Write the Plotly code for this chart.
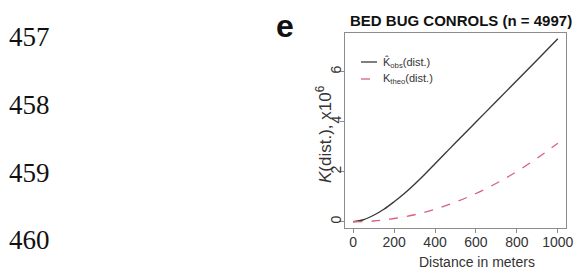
import plotly.graph_objects as go

# Data (K values in units of 10^6)
dist_obs = [0, 50, 100, 150, 200, 250, 300, 350, 400, 450, 500, 600, 700, 800, 900, 1000]
k_obs = [0, 0.08, 0.26, 0.5, 0.8, 1.13, 1.5, 1.9, 2.32, 2.74, 3.16, 3.99, 4.82, 5.65, 6.48, 7.32]
dist_theo = [0, 100, 200, 300, 400, 500, 600, 700, 800, 900, 1000]
k_theo = [0, 0.03, 0.13, 0.28, 0.5, 0.79, 1.13, 1.54, 2.01, 2.55, 3.14]

x_ticks = [0, 200, 400, 600, 800, 1000]
y_ticks = [0, 2, 4, 6]
line_numbers = ["457", "458", "459", "460"]

title_text = "BED BUG CONROLS (n = 4997)"
panel_label = "e"
y_title = "<i>K</i>(dist.), x10<sup>6</sup>"
x_title = "Distance in meters"
legend_labels = ["K\u0302<sub>obs</sub>(dist.)", "K<sub>theo</sub>(dist.)"]

obs_color = "#3a3a3a"
theo_color = "#d9607a"
frame_color = "#8c8c8c"

fig = go.Figure()
fig.add_trace(go.Scatter(x=dist_obs, y=k_obs, mode="lines",
                         line=dict(color=obs_color, width=1.4, shape="spline"),
                         name=legend_labels[0]))
fig.add_trace(go.Scatter(x=dist_theo, y=k_theo, mode="lines",
                         line=dict(color=theo_color, width=1.3, dash="dash", shape="spline"),
                         name=legend_labels[1]))

W, H = 577, 271
left, right, top, bottom = 345, 566, 33, 228
pw, ph = right - left, bottom - top


def px(xp):
    return (xp - left) / pw


def py(yp):
    return (bottom - yp) / ph


axis_common = dict(showline=True, linecolor=frame_color, linewidth=1, mirror=True,
                   ticks="outside", ticklen=4, tickcolor=frame_color,
                   showgrid=False, zeroline=False, automargin=False,
                   tickfont=dict(family="Liberation Sans, Arial", size=14, color="#333"))

fig.update_layout(
    width=W, height=H,
    margin=dict(l=left, r=W - right, t=top, b=H - bottom, autoexpand=False),
    paper_bgcolor="white", plot_bgcolor="white",
    showlegend=False,
    xaxis=dict(range=[-40, 1040], tickvals=x_ticks, ticklabelstandoff=-3, **axis_common),
    yaxis=dict(range=[-0.25, 7.55], tickvals=y_ticks, tickangle=-90, ticklabelstandoff=-7,
               **axis_common),
)

annotations = []
ys = [37, 105, 173, 240]
for lab, yy in zip(line_numbers, ys):
    annotations.append(dict(text=lab, x=px(7), y=py(yy), xref="paper", yref="paper",
                            showarrow=False, xanchor="left", yanchor="middle",
                            font=dict(family="Liberation Serif, Times New Roman", size=27, color="#111")))
annotations.append(dict(text="<b>" + panel_label + "</b>", x=px(285), y=py(26), xref="paper", yref="paper",
                        showarrow=False, xanchor="center", yanchor="middle",
                        font=dict(family="Liberation Sans, Arial", size=32, color="#111")))
annotations.append(dict(text="<b>" + title_text + "</b>", x=px(461), y=py(20), xref="paper", yref="paper",
                        showarrow=False, xanchor="center", yanchor="middle",
                        font=dict(family="Liberation Sans, Arial", size=15, color="#111")))
annotations.append(dict(text=y_title, x=px(324), y=py(134), xref="paper", yref="paper",
                        showarrow=False, xanchor="center", yanchor="middle", textangle=-90,
                        font=dict(family="Liberation Sans, Arial", size=17, color="#333")))
annotations.append(dict(text=x_title, x=px(477), y=py(262), xref="paper", yref="paper",
                        showarrow=False, xanchor="center", yanchor="middle",
                        font=dict(family="Liberation Sans, Arial", size=14, color="#333")))

# manual legend (keys + labels)
legend_rows = [(62, obs_color, "solid", legend_labels[0]), (79, theo_color, "dash", legend_labels[1])]
for yy, col, dash, lab in legend_rows:
    fig.add_shape(type="line", xref="paper", yref="paper", x0=px(361), x1=px(377), y0=py(yy), y1=py(yy),
                  line=dict(color=col, width=1.3, dash="dash" if dash == "dash" else "solid"))
    annotations.append(dict(text=lab, x=px(381), y=py(yy), xref="paper", yref="paper",
                            showarrow=False, xanchor="left", yanchor="middle",
                            font=dict(family="Liberation Sans, Arial", size=11, color="#333")))

fig.update_layout(annotations=annotations)

fig.write_html("out.html", config={"displayModeBar": False},
               post_script="document.body.style.margin='0';document.body.style.padding='0';")
